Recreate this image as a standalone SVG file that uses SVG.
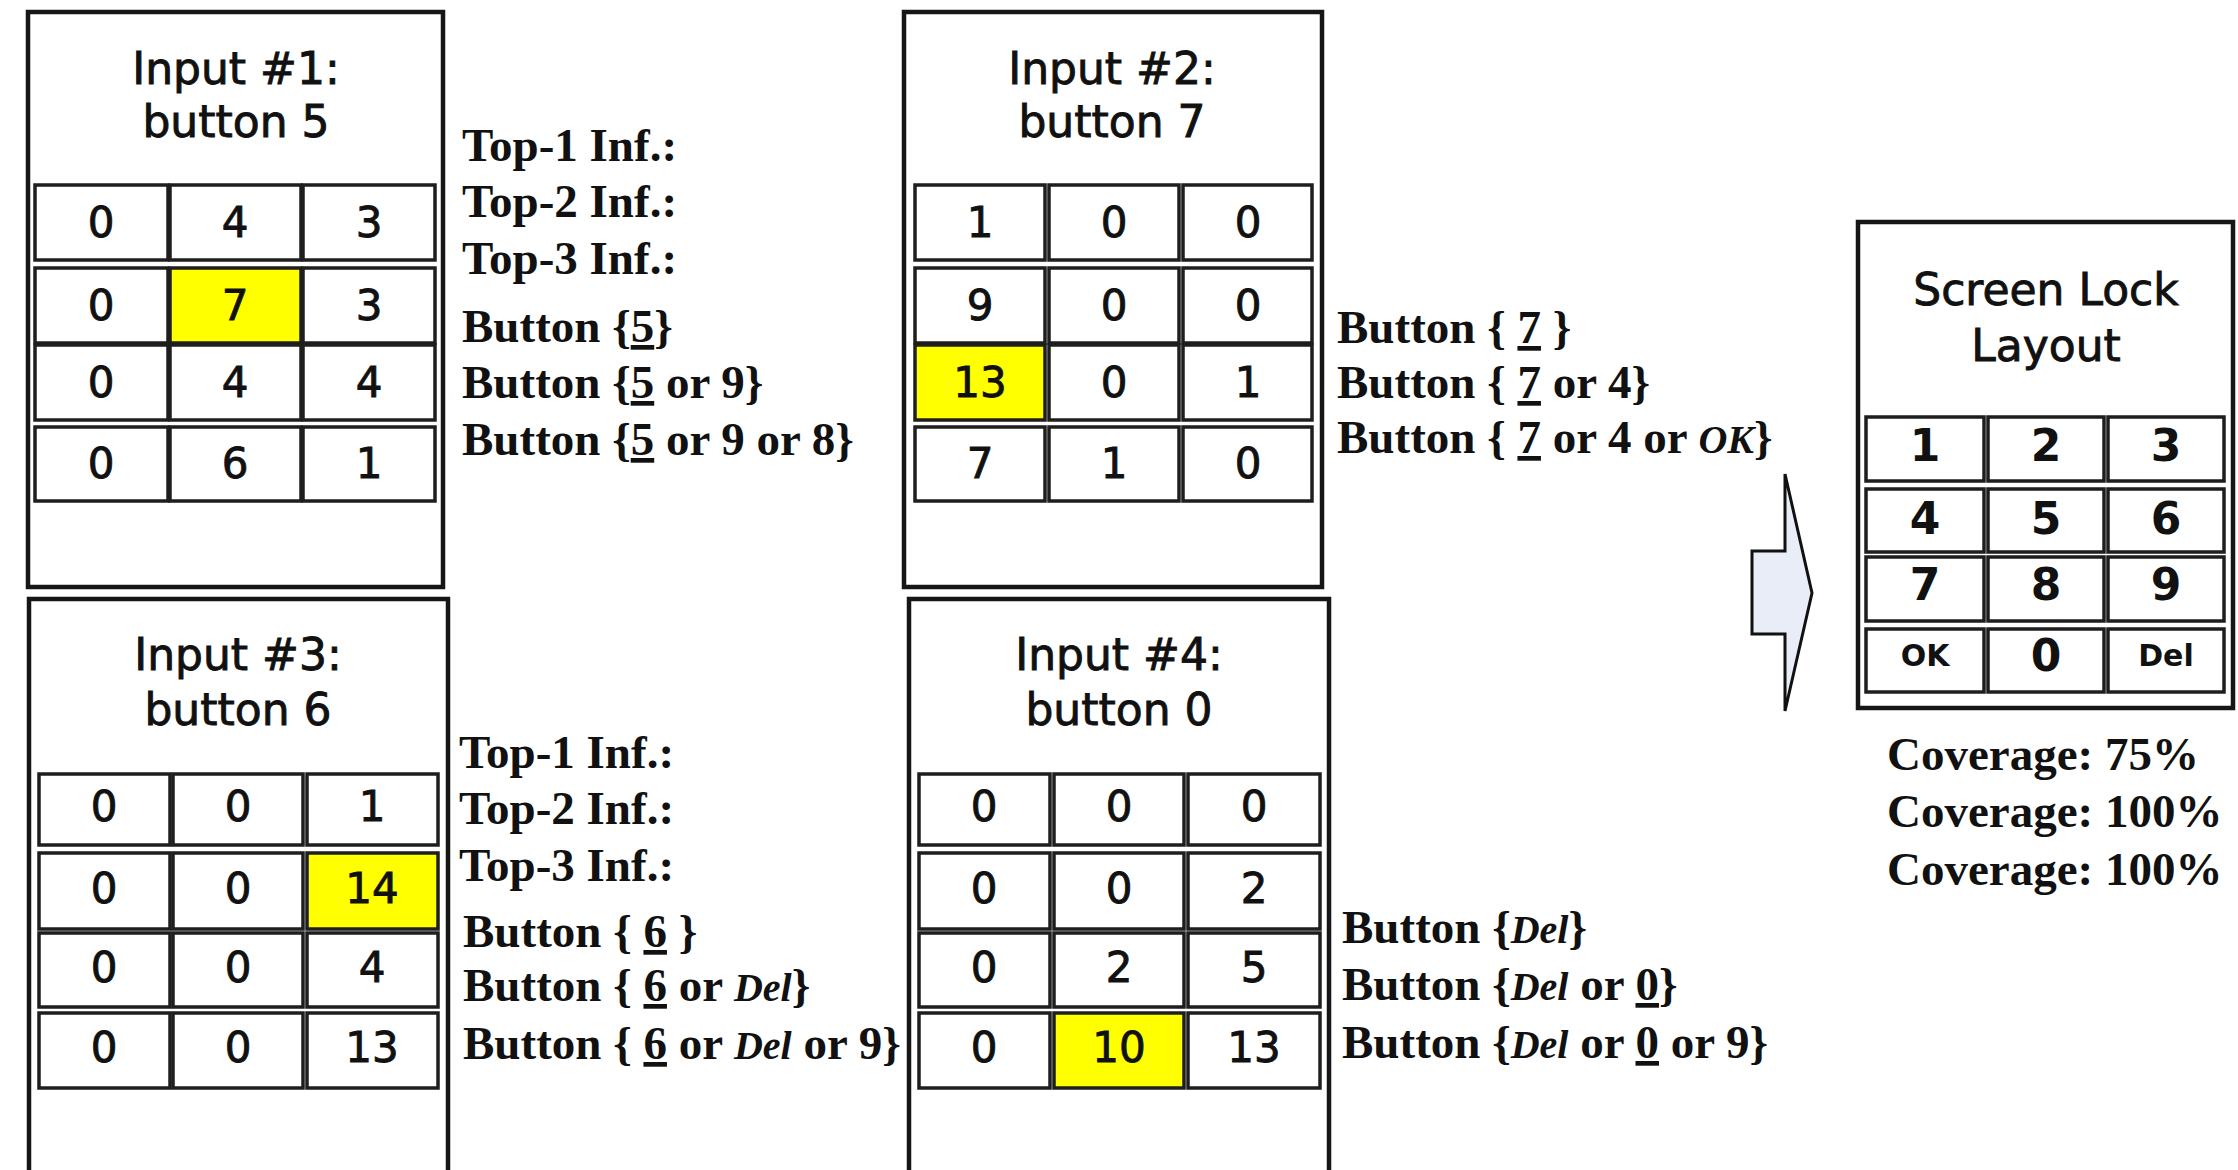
<svg xmlns="http://www.w3.org/2000/svg" width="2238" height="1170" viewBox="0 0 2238 1170">
<style>
.box{fill:#fff;stroke:#161616;stroke-width:4.5}
.cell{fill:#fff;stroke:#1e1e1e;stroke-width:3.5}
.hl{fill:#ffff00}
.ti{font-family:"DejaVu Sans","Liberation Sans",sans-serif;font-size:44px;text-anchor:middle;fill:#111;stroke:#111;stroke-width:0.9}
.d{font-family:"DejaVu Sans","Liberation Sans",sans-serif;font-size:42px;text-anchor:middle;fill:#111;stroke:#111;stroke-width:0.9}
.db{font-family:"DejaVu Sans","Liberation Sans",sans-serif;font-size:44px;font-weight:bold;text-anchor:middle;fill:#111}
.ds{font-family:"DejaVu Sans","Liberation Sans",sans-serif;font-size:30px;font-weight:bold;text-anchor:middle;fill:#111}
.s{font-family:"Liberation Serif","Times New Roman",serif;font-weight:bold;font-size:47px;fill:#111}
.u{text-decoration:underline}
.i{font-style:italic;font-size:40px}
.arrow{fill:#e8edf7;stroke:#111;stroke-width:3;stroke-linejoin:miter}
</style>
<rect width="2238" height="1170" fill="#fff"/>

<g id="input1">
<rect class="box" x="28" y="12" width="415" height="575"/>
<text class="ti" x="236" y="84">Input #1:</text>
<text class="ti" x="236" y="137">button 5</text>
<rect class="cell" x="35" y="185" width="133" height="75"/><rect class="cell" x="170" y="185" width="131" height="75"/><rect class="cell" x="303" y="185" width="132" height="75"/>
<rect class="cell" x="35" y="268" width="133" height="75"/><rect class="cell hl" x="170" y="268" width="131" height="75"/><rect class="cell" x="303" y="268" width="132" height="75"/>
<rect class="cell" x="35" y="345" width="133" height="75"/><rect class="cell" x="170" y="345" width="131" height="75"/><rect class="cell" x="303" y="345" width="132" height="75"/>
<rect class="cell" x="35" y="427" width="133" height="74"/><rect class="cell" x="170" y="427" width="131" height="74"/><rect class="cell" x="303" y="427" width="132" height="74"/>
<text class="d" x="101" y="237">0</text><text class="d" x="235" y="237">4</text><text class="d" x="369" y="237">3</text>
<text class="d" x="101" y="320">0</text><text class="d" x="235" y="320">7</text><text class="d" x="369" y="320">3</text>
<text class="d" x="101" y="397">0</text><text class="d" x="235" y="397">4</text><text class="d" x="369" y="397">4</text>
<text class="d" x="101" y="478">0</text><text class="d" x="235" y="478">6</text><text class="d" x="369" y="478">1</text>
<text class="s" x="462" y="161">Top-1 Inf.:</text>
<text class="s" x="462" y="217">Top-2 Inf.:</text>
<text class="s" x="462" y="274">Top-3 Inf.:</text>
<text class="s" x="462" y="342">Button {<tspan class="u">5</tspan>}</text>
<text class="s" x="462" y="398">Button {<tspan class="u">5</tspan> or 9}</text>
<text class="s" x="462" y="455">Button {<tspan class="u">5</tspan> or 9 or 8}</text>
</g>

<g id="input2">
<rect class="box" x="904" y="12" width="418" height="575"/>
<text class="ti" x="1112" y="84">Input #2:</text>
<text class="ti" x="1112" y="137">button 7</text>
<rect class="cell" x="915" y="185" width="130" height="75"/><rect class="cell" x="1049" y="185" width="130" height="75"/><rect class="cell" x="1183" y="185" width="129" height="75"/>
<rect class="cell" x="915" y="268" width="130" height="75"/><rect class="cell" x="1049" y="268" width="130" height="75"/><rect class="cell" x="1183" y="268" width="129" height="75"/>
<rect class="cell hl" x="915" y="345" width="130" height="75"/><rect class="cell" x="1049" y="345" width="130" height="75"/><rect class="cell" x="1183" y="345" width="129" height="75"/>
<rect class="cell" x="915" y="427" width="130" height="74"/><rect class="cell" x="1049" y="427" width="130" height="74"/><rect class="cell" x="1183" y="427" width="129" height="74"/>
<text class="d" x="980" y="237">1</text><text class="d" x="1114" y="237">0</text><text class="d" x="1248" y="237">0</text>
<text class="d" x="980" y="320">9</text><text class="d" x="1114" y="320">0</text><text class="d" x="1248" y="320">0</text>
<text class="d" x="980" y="397">13</text><text class="d" x="1114" y="397">0</text><text class="d" x="1248" y="397">1</text>
<text class="d" x="980" y="478">7</text><text class="d" x="1114" y="478">1</text><text class="d" x="1248" y="478">0</text>
<text class="s" x="1337" y="343">Button { <tspan class="u">7</tspan> }</text>
<text class="s" x="1337" y="398">Button { <tspan class="u">7</tspan> or 4}</text>
<text class="s" x="1337" y="453">Button { <tspan class="u">7</tspan> or 4 or <tspan class="i">OK</tspan>}</text>
</g>

<g id="input3">
<rect class="box" x="29" y="599" width="419" height="590"/>
<text class="ti" x="238" y="670">Input #3:</text>
<text class="ti" x="238" y="725">button 6</text>
<rect class="cell" x="39" y="774" width="131" height="71"/><rect class="cell" x="173" y="774" width="130" height="71"/><rect class="cell" x="307" y="774" width="131" height="71"/>
<rect class="cell" x="39" y="853" width="131" height="76"/><rect class="cell" x="173" y="853" width="130" height="76"/><rect class="cell hl" x="307" y="853" width="131" height="76"/>
<rect class="cell" x="39" y="933" width="131" height="74"/><rect class="cell" x="173" y="933" width="130" height="74"/><rect class="cell" x="307" y="933" width="131" height="74"/>
<rect class="cell" x="39" y="1013" width="131" height="75"/><rect class="cell" x="173" y="1013" width="130" height="75"/><rect class="cell" x="307" y="1013" width="131" height="75"/>
<text class="d" x="104" y="821">0</text><text class="d" x="238" y="821">0</text><text class="d" x="372" y="821">1</text>
<text class="d" x="104" y="903">0</text><text class="d" x="238" y="903">0</text><text class="d" x="372" y="903">14</text>
<text class="d" x="104" y="982">0</text><text class="d" x="238" y="982">0</text><text class="d" x="372" y="982">4</text>
<text class="d" x="104" y="1062">0</text><text class="d" x="238" y="1062">0</text><text class="d" x="372" y="1062">13</text>
<text class="s" x="459" y="768">Top-1 Inf.:</text>
<text class="s" x="459" y="824">Top-2 Inf.:</text>
<text class="s" x="459" y="881">Top-3 Inf.:</text>
<text class="s" x="463" y="947">Button { <tspan class="u">6</tspan> }</text>
<text class="s" x="463" y="1001">Button { <tspan class="u">6</tspan> or <tspan class="i">Del</tspan>}</text>
<text class="s" x="463" y="1059">Button { <tspan class="u">6</tspan> or <tspan class="i">Del</tspan> or 9}</text>
</g>

<g id="input4">
<rect class="box" x="909" y="599" width="420" height="590"/>
<text class="ti" x="1119" y="670">Input #4:</text>
<text class="ti" x="1119" y="725">button 0</text>
<rect class="cell" x="919" y="774" width="131" height="71"/><rect class="cell" x="1054" y="774" width="130" height="71"/><rect class="cell" x="1188" y="774" width="132" height="71"/>
<rect class="cell" x="919" y="853" width="131" height="76"/><rect class="cell" x="1054" y="853" width="130" height="76"/><rect class="cell" x="1188" y="853" width="132" height="76"/>
<rect class="cell" x="919" y="933" width="131" height="74"/><rect class="cell" x="1054" y="933" width="130" height="74"/><rect class="cell" x="1188" y="933" width="132" height="74"/>
<rect class="cell" x="919" y="1013" width="131" height="75"/><rect class="cell hl" x="1054" y="1013" width="130" height="75"/><rect class="cell" x="1188" y="1013" width="132" height="75"/>
<text class="d" x="984" y="821">0</text><text class="d" x="1119" y="821">0</text><text class="d" x="1254" y="821">0</text>
<text class="d" x="984" y="903">0</text><text class="d" x="1119" y="903">0</text><text class="d" x="1254" y="903">2</text>
<text class="d" x="984" y="982">0</text><text class="d" x="1119" y="982">2</text><text class="d" x="1254" y="982">5</text>
<text class="d" x="984" y="1062">0</text><text class="d" x="1119" y="1062">10</text><text class="d" x="1254" y="1062">13</text>
<text class="s" x="1342" y="943">Button {<tspan class="i">Del</tspan>}</text>
<text class="s" x="1342" y="1000">Button {<tspan class="i">Del</tspan> or <tspan class="u">0</tspan>}</text>
<text class="s" x="1342" y="1058">Button {<tspan class="i">Del</tspan> or <tspan class="u">0</tspan> or 9}</text>
</g>

<g id="connectors">
<polygon class="arrow" points="1752,551 1785,551 1785,474 1812,593 1785,711 1785,634 1752,634"/>
</g>

<g id="screen-lock">
<rect class="box" x="1858" y="222" width="375" height="486"/>
<text class="ti" x="2046" y="305" font-size="46" stroke-width="1.4">Screen Lock</text>
<text class="ti" x="2046" y="361" font-size="46" stroke-width="1.4">Layout</text>
<rect class="cell" x="1866" y="417" width="118" height="64"/><rect class="cell" x="1988" y="417" width="116" height="64"/><rect class="cell" x="2108" y="417" width="116" height="64"/>
<rect class="cell" x="1866" y="489" width="118" height="63"/><rect class="cell" x="1988" y="489" width="116" height="63"/><rect class="cell" x="2108" y="489" width="116" height="63"/>
<rect class="cell" x="1866" y="557" width="118" height="64"/><rect class="cell" x="1988" y="557" width="116" height="64"/><rect class="cell" x="2108" y="557" width="116" height="64"/>
<rect class="cell" x="1866" y="629" width="118" height="63"/><rect class="cell" x="1988" y="629" width="116" height="63"/><rect class="cell" x="2108" y="629" width="116" height="63"/>
<text class="db" x="1925" y="461">1</text><text class="db" x="2046" y="461">2</text><text class="db" x="2166" y="461">3</text>
<text class="db" x="1925" y="534">4</text><text class="db" x="2046" y="534">5</text><text class="db" x="2166" y="534">6</text>
<text class="db" x="1925" y="600">7</text><text class="db" x="2046" y="600">8</text><text class="db" x="2166" y="600">9</text>
<text class="ds" x="1925" y="666">OK</text><text class="db" x="2046" y="671">0</text><text class="ds" x="2166" y="666">Del</text>
<text class="s" x="1887" y="770">Coverage: 75%</text>
<text class="s" x="1887" y="827">Coverage: 100%</text>
<text class="s" x="1887" y="885">Coverage: 100%</text>
</g>
</svg>
